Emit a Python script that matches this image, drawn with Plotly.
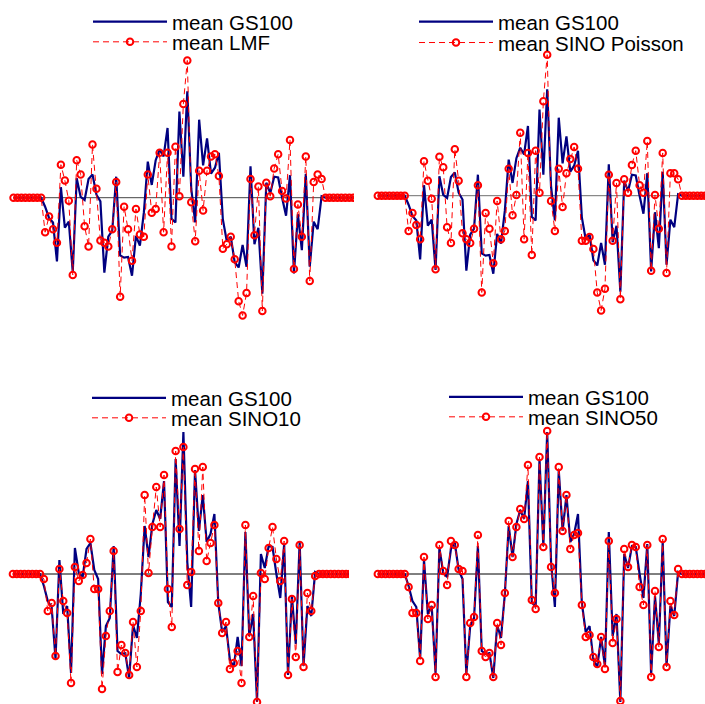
import plotly.graph_objects as go

W, H = 705, 704
N = 89
idx = list(range(N))

gs100 = [0, 0, 0, 0, 0, 0, 0, 0,
         -12, -27, -33, -85, 14, -40, -32, -99, 26, 1, -3, 25, 31, 4, -5, -100, -52, -44, 28, -77,
         -80, -79, -104, -51, -64, -20, 48, 17, 50, 64, 55, 93, -28, -33, 115, 28, 142, 12, -33,
         104, 43, 79, 32, 40, 60, -29, -58, -52, -86, -93, -63, -92, 42, -62, -40, -128, 20, 6,
         28, 27, 0, -24, 30, -101, -22, -70, 32, -92, -32, -42, 2,
         0, 0, 0, 0, 0, 0, 0, 0, 0, 0]

lmf = [0, 0, 0, 0, 0, 0, 0, 0,
       -46, -25, -42, -60, 44, 23, -4, -103, 50, 31, -38, -65, 71, 12, -57, -60, -65, -42, 21,
       -132, -12, -42, -84, -15, -49, -52, 31, -20, -15, 60, -46, 60, -65, 68, 2, 125, 183, -6,
       -58, 36, -17, 36, 55, 58, 29, -68, -62, -52, -82, -138, -157, -127, 25, -50, 15, -151,
       20, 2, 39, 58, 9, -1, 77, -95, -9, -52, 55, -111, 21, 31, 25,
       0, 0, 0, 0, 0, 0, 0, 0, 0, 0]

sino_poisson = [0, 0, 0, 0, 0, 0, 0, 0,
                -47, -23, -39, -58, 46, 20, -4, -98, 52, 38, -42, -63, 62, 20, -50, -58, -63, -44,
                14, -129, -23, -44, -90, -7, -58, -47, 36, -26, 1, 84, -58, 57, -79, 60, 4, 126,
                188, -7, -47, 36, -15, 30, 49, 65, 36, -60, -60, -55, -71, -129, -153, -124, 28,
                -60, 17, -138, 22, 4, 41, 60, 14, 4, 73, -100, 1, -44, 57, -103, 30, 30, 22,
                0, 0, 0, 0, 0, 0, 0, 0, 0, 0]

sino10 = [0, 0, 0, 0, 0, 0, 0, 0,
          -5, -37, -29, -82, 5, -27, -39, -109, 7, -7, -1, 11, 35, -15, -15, -115, -62, -37, 23,
          -98, -71, -79, -101, -48, -93, -37, 79, 1, 47, 87, 47, 99, -15, -53, 123, 45, 127, -11,
          2, 105, 23, 107, 13, 31, 49, -29, -59, -48, -95, -89, -77, -109, 49, -63, -22, -128, 1,
          -5, 26, 47, 15, -7, 33, -101, -25, -83, 29, -93, -19, -37, -2,
          0, 0, 0, 0, 0, 0, 0, 0, 0, 0]

sino50 = [0, 0, 0, 0, 0, 0, 0, 0,
          -13, -39, -39, -87, 17, -45, -31, -103, 29, 3, -11, 33, 29, 5, 3, -103, -49, -43, 39,
          -77, -83, -79, -103, -49, -71, -19, 53, 17, 47, 65, 55, 109, -26, -35, 117, 27, 143, 7,
          -19, 107, 43, 79, 25, 39, 41, -31, -63, -61, -83, -90, -63, -95, 33, -69, -45, -127, 25,
          7, 29, 27, -13, -31, 29, -103, -17, -73, 35, -93, -27, -41, 5,
          0, 0, 0, 0, 0, 0, 0, 0, 0, 0]

panel_series = [("mean LMF", lmf), ("mean SINO Poisson", sino_poisson),
                ("mean SINO10", sino10), ("mean SINO50", sino50)]

# layout geometry in page pixels
geom = [
    dict(xd=(0, 354), a=13.5, b=3.95, yd=(47.7, 347.7), yr=(-200, 200), leg=(88, 21.7, 42.0), zc="#444444"),
    dict(xd=(362, 705), a=377.8, b=3.85, yd=(45.7, 345.7), yr=(-200, 200), leg=(414, 21.7, 42.7), zc="#6e6e6e"),
    dict(xd=(0, 349), a=12.9, b=3.875, yd=(424, 704), yr=(-130, 150), leg=(87, 398, 418), zc="#000000"),
    dict(xd=(362, 705), a=377.8, b=3.85, yd=(424, 704), yr=(-130, 150), leg=(444, 397, 417), zc="#000000"),
]

BLUE = "#000080"
RED = "#ff0000"
FONT = dict(family="Liberation Sans, Arial, sans-serif", size=20.5, color="#000000")

fig = go.Figure()
layout = dict(width=W, height=H, margin=dict(l=0, r=0, t=0, b=0),
              paper_bgcolor="white", plot_bgcolor="white", showlegend=True)
shapes = []

for k, ((name, vals), g) in enumerate(zip(panel_series, geom)):
    n = k + 1
    sfx = "" if n == 1 else str(n)
    xa, ya = "x" + sfx, "y" + sfx
    lb = 2 * k + 1
    lr = 2 * k + 2
    lname_b = "legend" if lb == 1 else "legend%d" % lb
    lname_r = "legend%d" % lr

    fig.add_trace(go.Scatter(x=idx, y=gs100, mode="lines", name="mean GS100",
                             line=dict(color=BLUE, width=2.2), xaxis=xa, yaxis=ya,
                             legend=lname_b, cliponaxis=True))
    fig.add_trace(go.Scatter(x=idx, y=vals, mode="lines+markers", name=name,
                             line=dict(color=RED, width=1, dash="6px,4px"),
                             marker=dict(symbol="circle-open", size=6.5, color=RED,
                                         line=dict(width=2, color=RED)),
                             xaxis=xa, yaxis=ya, legend=lname_r, cliponaxis=True))

    x0px, x1px = g["xd"]
    xr = [(x0px - g["a"]) / g["b"], (x1px - g["a"]) / g["b"]]
    yt, yb = g["yd"]
    layout["xaxis" + sfx] = dict(domain=[x0px / W, x1px / W], range=xr, visible=False,
                                 anchor=ya, fixedrange=True)
    layout["yaxis" + sfx] = dict(domain=[1 - yb / H, 1 - yt / H], range=list(g["yr"]),
                                 visible=False, anchor=xa, fixedrange=True)
    shapes.append(dict(type="line", xref=xa, yref=ya, x0=idx[0], x1=idx[-1], y0=0, y1=0,
                       line=dict(color=g["zc"], width=1), layer="below"))

    lx, ly1, ly2 = g["leg"]
    for lname, ly in ((lname_b, ly1), (lname_r, ly2)):
        layout[lname] = dict(x=lx / W, y=1 - ly / H, xanchor="left", yanchor="middle",
                             xref="paper", yref="paper", bgcolor="rgba(0,0,0,0)",
                             borderwidth=0, font=FONT, itemwidth=74,
                             itemclick=False, itemdoubleclick=False)

layout["shapes"] = shapes
layout["hovermode"] = False
fig.update_layout(**layout)
fig.write_html("out.html", config={"displayModeBar": False, "staticPlot": True},
               post_script="document.body.style.margin='0';document.body.style.overflow='hidden';")
